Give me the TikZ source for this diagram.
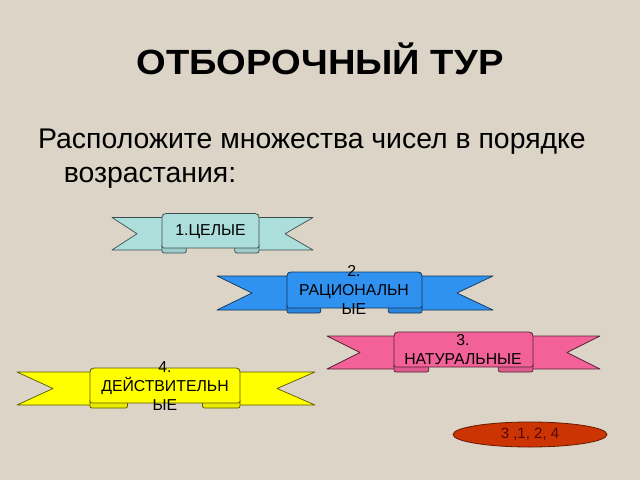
\documentclass[tikz,border=0pt]{standalone}
\usepackage{fontspec}
\setmainfont{Liberation Sans}
\usetikzlibrary{shapes.geometric}
\definecolor{bgc}{RGB}{219,212,199}
\definecolor{cyanr}{RGB}{172,222,220}
\definecolor{bluer}{RGB}{48,146,240}
\definecolor{pinkr}{RGB}{242,98,152}
\definecolor{yellr}{RGB}{255,255,0}
\definecolor{ovalc}{RGB}{204,52,4}
\definecolor{ovaltext}{RGB}{80,8,8}
\tikzset{
  rib/.style={fill=#1, draw=#1!35!black, line width=0.7pt, line join=round},
  fold/.style={fill=#1!92!black, draw=#1!35!black, line width=0.7pt, line join=round},
  ribtext/.style={font=\fontsize{15.8}{19.3}\selectfont, align=center, text=black, inner sep=0pt},
}
\newcommand\ribbon[9]{%
  \pgfmathsetmacro\fw{0.25*(#4-#3)}%
  \pgfmathsetmacro\my{(#7+#8+6)/2}%
  % left tail
  \draw[rib=#9] ({#1},{#7+4}) -- ({#3+10},{#7+4}) -- ({#3+10},{#8+2}) -- ({#1},{#8+2}) -- ({#2},{\my}) -- cycle;
  % right tail
  \draw[rib=#9] ({#6},{#7+4}) -- ({#4-10},{#7+4}) -- ({#4-10},{#8+2}) -- ({#6},{#8+2}) -- ({#5},{\my}) -- cycle;
  % folds
  \draw[fold=#9] ({#3},{#8-3}) -- ({#3},{#8+3}) to[out=-90,in=180] ({#3+2},{#8+5}) -- ({#3+\fw-2},{#8+5}) to[out=0,in=-90] ({#3+\fw},{#8+3}) -- ({#3+\fw},{#8-3}) -- cycle;
  \draw[fold=#9] ({#4},{#8-3}) -- ({#4},{#8+3}) to[out=-90,in=0] ({#4-2},{#8+5}) -- ({#4-\fw+2},{#8+5}) to[out=180,in=-90] ({#4-\fw},{#8+3}) -- ({#4-\fw},{#8-3}) -- cycle;
  % band
  \draw[rib=#9, rounded corners=2pt] ({#3},{#8}) -- ({#3},{#7+2}) -- ({#3+2},{#7}) -- ({#4-2},{#7}) -- ({#4},{#7+2}) -- ({#4},{#8}) -- cycle;
}
\begin{document}
\begin{tikzpicture}[x=1pt,y=-1pt]
\useasboundingbox (0,0) rectangle (640,480);
\fill[bgc] (0,0) rectangle (640,480);

\node[anchor=base, inner sep=0pt, font=\bfseries\fontsize{35}{40}\selectfont] (title) at (320,74) {\scalebox{1.09}[1]{ОТБОРОЧНЫЙ ТУР}};
\node[anchor=base west, inner sep=0pt, font=\fontsize{28.4}{34}\selectfont] (line1) at (38,148) {Расположите множества чисел в порядке};
\node[anchor=base west, inner sep=0pt, font=\fontsize{28.4}{34}\selectfont] (line2) at (63.7,182.7) {возрастания:};

% ribbon 1
\ribbon{112}{137}{162}{259}{285}{313}{213.5}{248}{cyanr}
\node[ribtext] (r1) at (210.5,232) {1.ЦЕЛЫЕ};

% ribbon 2
\ribbon{217}{252}{287}{422}{457}{493}{272}{308}{bluer}
\node[ribtext] (r2) at (354,290) {2.\\РАЦИОНАЛЬН\\ЫЕ};

% ribbon 3
\ribbon{327}{360}{394}{533}{567}{600}{332}{367}{pinkr}
\node[ribtext] (r3) at (463,349.5) {3.\\НАТУРАЛЬНЫЕ};

% ribbon 4
\ribbon{17}{53}{90}{240}{277}{315}{368}{403}{yellr}
\node[ribtext] (r4) at (165,386) {4.\\ДЕЙСТВИТЕЛЬН\\ЫЕ};

% answer oval
\node[ellipse, minimum width=154pt, minimum height=25pt, fill=ovalc, draw=ovalc!50!black, line width=0.8pt, inner sep=0pt] (ans) at (530,434.5) {};
\node[inner sep=0pt, text=ovaltext, font=\fontsize{15}{18}\selectfont] (anstext) at (ans) {3 ,1, 2, 4};
\end{tikzpicture}
\end{document}
